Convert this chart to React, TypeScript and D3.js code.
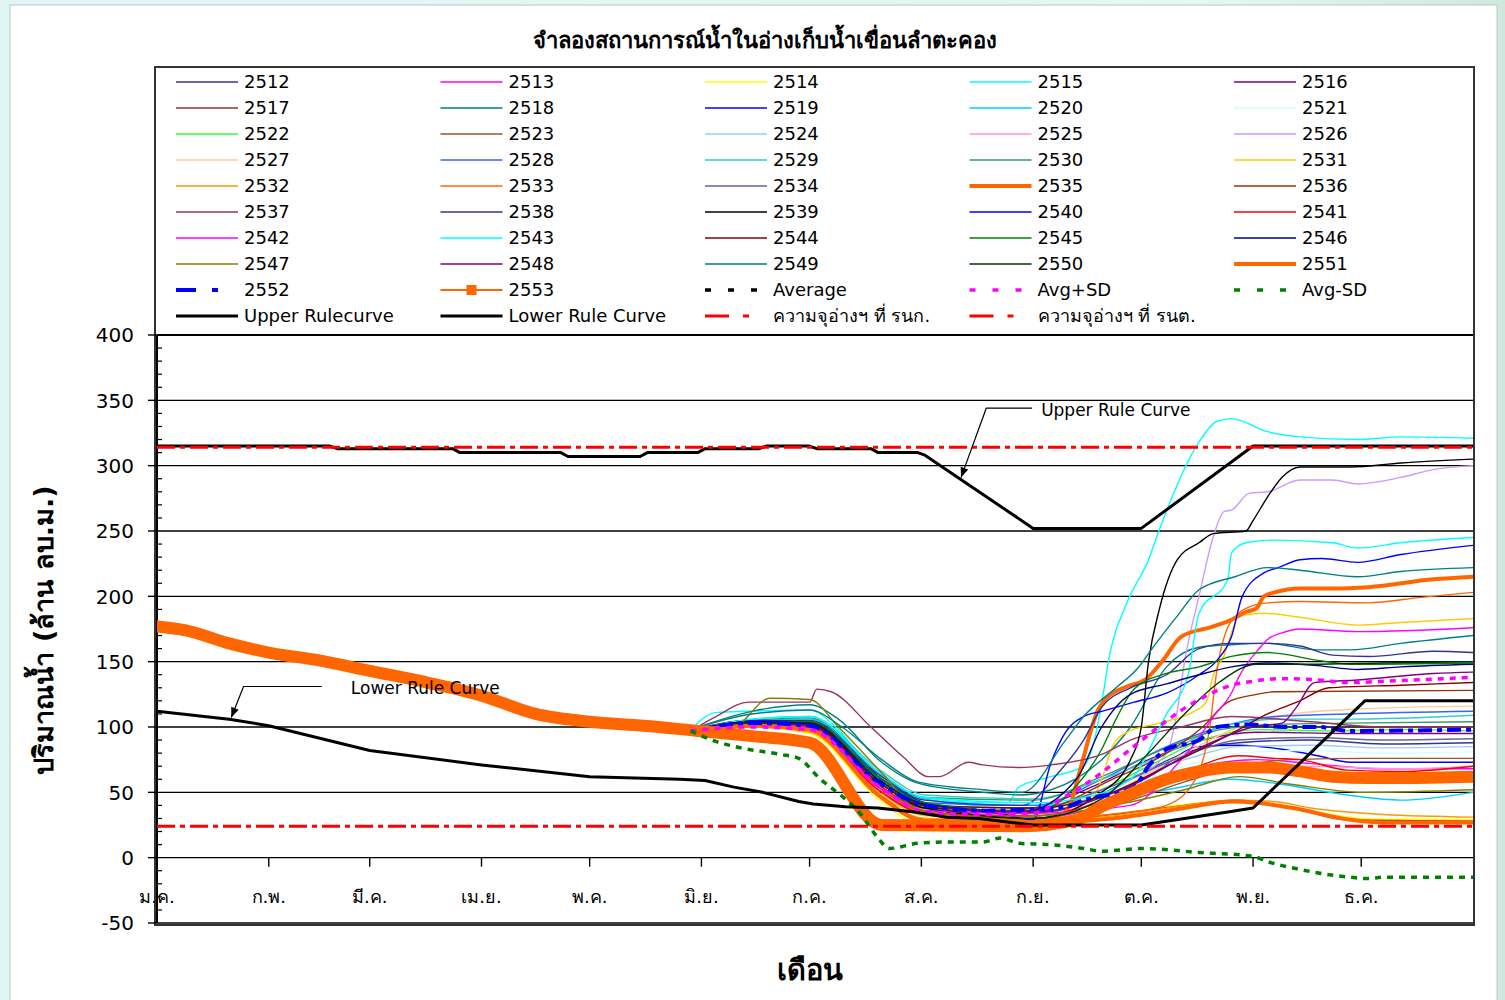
import React from "react";
import * as d3 from "d3";

type Pt = [number, number];

const TITLE = "จำลองสถานการณ์น้ำในอ่างเก็บน้ำเขื่อนลำตะคอง";
const Y_TITLE = "ปริมาณน้ำ (ล้าน ลบ.ม.)";
const X_TITLE = "เดือน";
const MONTHS = ["ม.ค.", "ก.พ.", "มี.ค.", "เม.ย.", "พ.ค.", "มิ.ย.", "ก.ค.", "ส.ค.", "ก.ย.", "ต.ค.", "พ.ย.", "ธ.ค."];
const MONTH_START_DAYS = [0, 31, 59, 90, 120, 151, 181, 212, 243, 273, 304, 334];
const Y_TICKS = [-50, 0, 50, 100, 150, 200, 250, 300, 350, 400];

// simulated storage per historical year (day of year, million m3)
const S2512: Pt[] = [[148, 97], [165, 103], [181, 104], [195, 75], [210, 40], [225, 33], [243, 32], [255, 40], [270, 60], [285, 80], [300, 88], [320, 90], [340, 87], [365, 88]];
const S2513: Pt[] = [[148, 97], [165, 102], [181, 100], [200, 55], [212, 35], [230, 30], [243, 30], [260, 38], [275, 55], [290, 70], [305, 75], [320, 72], [340, 68], [365, 68]];
const S2514: Pt[] = [[148, 97], [165, 100], [181, 95], [200, 45], [210, 28], [243, 27], [260, 30], [280, 39], [290, 42], [300, 43], [315, 38], [335, 30], [365, 29]];
const S2515: Pt[] = [[148, 98], [155, 111], [164, 112], [181, 113], [189, 98], [201, 57], [211, 47], [229, 42], [236, 42], [239, 54], [248, 62], [257, 70], [260, 90], [262, 118], [264, 152], [269, 195], [275, 228], [278, 251], [289, 318], [294, 334], [298, 336], [308, 326], [317, 322], [333, 320], [345, 322], [365, 321]];
const S2516: Pt[] = [[148, 97], [165, 104], [181, 102], [200, 60], [213, 40], [230, 35], [243, 38], [260, 55], [275, 75], [290, 90], [305, 96], [330, 95], [365, 95]];
const S2517: Pt[] = [[148, 97], [165, 102], [181, 98], [200, 50], [212, 30], [243, 28], [265, 33], [285, 40], [300, 44], [315, 38], [330, 29], [365, 28]];
const S2518: Pt[] = [[148, 98], [165, 112], [181, 117], [189, 106], [201, 73], [211, 57], [229, 50], [239, 48], [248, 52], [262, 75], [270, 100], [280, 146], [289, 161], [298, 163], [308, 164], [322, 159], [331, 159], [345, 164], [365, 170]];
const S2519: Pt[] = [[148, 97], [165, 104], [181, 100], [200, 50], [212, 36], [243, 34], [260, 45], [275, 62], [289, 85], [300, 86], [312, 83], [322, 78], [331, 73], [365, 73]];
const S2520: Pt[] = [[148, 97], [165, 105], [181, 106], [200, 65], [213, 45], [230, 40], [243, 40], [260, 45], [280, 52], [298, 60], [310, 57], [330, 48], [345, 44], [365, 50]];
const S2521: Pt[] = [[148, 97], [165, 101], [181, 99], [200, 55], [213, 38], [243, 36], [265, 50], [285, 70], [300, 80], [320, 82], [340, 80], [365, 81]];
const S2522: Pt[] = [[148, 97], [165, 104], [181, 102], [200, 60], [215, 38], [243, 36], [260, 50], [275, 70], [290, 90], [305, 98], [325, 97], [345, 98], [365, 97]];
const S2523: Pt[] = [[148, 97], [165, 100], [181, 98], [200, 52], [213, 33], [243, 32], [265, 40], [285, 58], [300, 70], [315, 75], [335, 76], [365, 76]];
const S2524: Pt[] = [[148, 97], [165, 103], [181, 103], [200, 58], [213, 40], [243, 38], [265, 55], [285, 75], [300, 85], [320, 86], [340, 84], [365, 85]];
const S2525: Pt[] = [[148, 97], [165, 101], [181, 98], [200, 52], [213, 35], [243, 33], [265, 45], [285, 60], [300, 68], [320, 70], [345, 68], [365, 70]];
const S2526: Pt[] = [[148, 97], [165, 103], [181, 101], [200, 55], [213, 37], [243, 35], [260, 45], [270, 60], [280, 80], [283, 113], [285, 150], [289, 200], [293, 246], [296, 265], [298, 266], [303, 279], [308, 280], [317, 289], [326, 289], [333, 286], [345, 291], [354, 297], [365, 300]];
const S2527: Pt[] = [[148, 97], [165, 100], [181, 97], [200, 50], [213, 33], [243, 32], [265, 50], [285, 80], [300, 100], [315, 110], [335, 114], [365, 116]];
const S2528: Pt[] = [[148, 97], [165, 104], [181, 103], [200, 62], [213, 42], [243, 40], [262, 60], [280, 85], [295, 100], [310, 108], [330, 110], [365, 112]];
const S2529: Pt[] = [[148, 97], [165, 106], [181, 108], [200, 68], [213, 48], [243, 45], [262, 60], [280, 80], [295, 100], [310, 106], [330, 106], [365, 109]];
const S2530: Pt[] = [[148, 97], [165, 105], [181, 107], [200, 66], [213, 46], [243, 44], [262, 62], [280, 84], [295, 98], [310, 102], [330, 103], [365, 104]];
const S2531: Pt[] = [[148, 97], [165, 101], [181, 98], [200, 50], [213, 32], [243, 30], [255, 30], [262, 60], [265, 85], [269, 96], [278, 103], [287, 111], [291, 119], [293, 140], [296, 155], [298, 172], [300, 185], [307, 187], [317, 184], [333, 178], [345, 180], [365, 183]];
const S2532: Pt[] = [[148, 97], [165, 100], [181, 96], [200, 48], [213, 30], [243, 29], [265, 32], [285, 40], [298, 44], [310, 43], [320, 38], [340, 33], [365, 31]];
const S2533: Pt[] = [[148, 97], [165, 102], [181, 100], [200, 52], [213, 34], [243, 30], [270, 35], [280, 40], [288, 60], [292, 100], [294, 144], [296, 169], [300, 187], [303, 192], [308, 195], [317, 196], [336, 195], [350, 199], [365, 203]];
const S2534: Pt[] = [[148, 97], [165, 103], [181, 102], [200, 58], [213, 40], [243, 38], [265, 55], [285, 78], [300, 90], [320, 92], [340, 90], [365, 91]];
const S2535: Pt[] = [[148, 97], [165, 104], [181, 103], [200, 55], [213, 35], [240, 28], [250, 32], [253, 39], [256, 67], [261, 113], [263, 121], [269, 131], [274, 136], [279, 151], [284, 169], [293, 177], [298, 182], [302, 188], [305, 191], [307, 200], [310, 203], [317, 206], [326, 206], [336, 207], [354, 213], [365, 215]];
const S2536: Pt[] = [[148, 97], [165, 102], [181, 101], [200, 56], [213, 38], [243, 36], [265, 60], [280, 80], [290, 100], [297, 119], [305, 125], [310, 127], [365, 128]];
const S2537: Pt[] = [[148, 97], [155, 108], [164, 119], [181, 119], [183, 129], [187, 127], [198, 100], [207, 77], [214, 62], [217, 62], [225, 73], [229, 71], [239, 69], [248, 71], [262, 79], [270, 90], [284, 100], [298, 108], [320, 104], [340, 100], [365, 100]];
const S2538: Pt[] = [[148, 97], [165, 104], [181, 105], [200, 64], [213, 44], [240, 40], [250, 65], [257, 90], [262, 115], [270, 130], [280, 140], [289, 160], [298, 164], [308, 164], [317, 162], [326, 155], [336, 154], [354, 158], [365, 157]];
const S2539: Pt[] = [[148, 97], [165, 103], [181, 102], [200, 58], [213, 38], [243, 30], [262, 50], [270, 75], [273, 100], [275, 150], [278, 190], [283, 228], [289, 241], [293, 248], [302, 250], [304, 258], [308, 276], [312, 291], [317, 299], [331, 299], [345, 302], [365, 305]];
const S2540: Pt[] = [[148, 97], [165, 105], [181, 104], [200, 62], [213, 42], [235, 33], [243, 29], [248, 73], [252, 96], [257, 108], [262, 112], [271, 119], [280, 126], [289, 140], [294, 151], [298, 169], [301, 200], [307, 218], [311, 222], [317, 228], [323, 229], [333, 226], [345, 232], [365, 239]];
const S2541: Pt[] = [[148, 97], [165, 101], [181, 99], [200, 52], [213, 34], [243, 32], [265, 45], [285, 66], [300, 78], [310, 76], [317, 75], [330, 67], [345, 66], [365, 70]];
const S2542: Pt[] = [[148, 97], [165, 102], [181, 100], [200, 54], [213, 36], [243, 34], [270, 40], [284, 75], [288, 88], [293, 108], [298, 126], [300, 138], [306, 161], [308, 167], [312, 172], [317, 175], [333, 173], [365, 176]];
const S2543: Pt[] = [[148, 97], [165, 106], [181, 108], [200, 66], [213, 46], [243, 42], [255, 45], [270, 60], [280, 110], [286, 140], [289, 187], [297, 213], [298, 233], [302, 241], [310, 243], [326, 241], [333, 237], [345, 241], [365, 245]];
const S2544: Pt[] = [[148, 97], [165, 103], [181, 102], [200, 58], [213, 40], [243, 38], [265, 50], [280, 70], [298, 95], [308, 110], [317, 120], [325, 130], [345, 132], [365, 134]];
const S2545: Pt[] = [[148, 97], [165, 104], [181, 104], [200, 62], [213, 42], [243, 35], [255, 55], [262, 83], [266, 106], [271, 129], [280, 141], [289, 146], [298, 154], [308, 157], [322, 151], [331, 148], [365, 149]];
const S2546: Pt[] = [[148, 97], [165, 104], [181, 103], [200, 60], [213, 41], [240, 35], [255, 60], [262, 100], [270, 125], [280, 133], [289, 140], [298, 146], [308, 149], [322, 147], [333, 144], [345, 146], [365, 148]];
const S2547: Pt[] = [[148, 97], [160, 100], [170, 122], [181, 121], [189, 100], [201, 65], [211, 37], [225, 32], [243, 32], [265, 40], [285, 52], [300, 62], [315, 56], [335, 50], [365, 52]];
const S2548: Pt[] = [[148, 97], [165, 103], [181, 101], [200, 58], [213, 40], [243, 35], [270, 55], [290, 85], [304, 100], [312, 103], [316, 115], [321, 134], [333, 136], [354, 141], [365, 142]];
const S2549: Pt[] = [[148, 98], [165, 110], [181, 113], [190, 100], [201, 75], [211, 58], [229, 52], [240, 50], [252, 90], [257, 108], [266, 130], [272, 145], [276, 160], [283, 185], [289, 205], [299, 215], [308, 222], [317, 220], [333, 215], [345, 219], [365, 222]];
const S2550: Pt[] = [[148, 97], [165, 103], [181, 103], [200, 60], [213, 40], [243, 30], [262, 45], [275, 80], [285, 110], [295, 135], [305, 148], [320, 148], [340, 149], [365, 150]];
const S2551: Pt[] = [[148, 97], [165, 101], [181, 98], [200, 48], [213, 28], [243, 27], [265, 30], [285, 38], [298, 43], [305, 42], [315, 38], [331, 29], [340, 27], [365, 27]];
const S2552: Pt[] = [[148, 97], [165, 103], [181, 101], [200, 58], [213, 40], [230, 36], [243, 37], [252, 39], [257, 44], [271, 54], [275, 70], [280, 83], [289, 90], [294, 100], [303, 102], [312, 100], [322, 100], [331, 97], [365, 98]];
const S2553: Pt[] = [[0, 177], [8, 174], [20, 164], [31, 157], [45, 151], [59, 143], [75, 134], [90, 124], [105, 110], [120, 104], [135, 101], [150, 97], [165, 93], [181, 88], [201, 25], [240, 24], [255, 29], [262, 39], [271, 50], [280, 60], [289, 66], [298, 69], [308, 69], [317, 66], [326, 62], [336, 61], [345, 61], [365, 62]];

const AVERAGE: Pt[] = [[148, 97], [165, 93], [181, 86], [201, 25], [240, 24], [255, 29], [271, 50], [289, 66], [304, 68], [317, 66], [336, 61], [365, 62]];
const AVG_PLUS_SD: Pt[] = [[148, 97], [165, 100], [181, 98], [200, 55], [213, 35], [229, 33], [243, 34], [252, 47], [262, 65], [270, 83], [289, 121], [298, 132], [304, 135], [312, 137], [322, 136], [331, 134], [340, 135], [365, 138]];
const AVG_MINUS_SD: Pt[] = [[148, 97], [155, 89], [162, 84], [173, 79], [178, 76], [184, 60], [190, 47], [195, 34], [200, 15], [203, 7], [211, 11], [220, 12], [229, 12], [234, 15], [239, 11], [248, 10], [257, 7], [262, 5], [273, 7], [289, 4], [304, 1], [308, -3], [317, -9], [331, -15], [336, -16], [340, -15], [365, -15]];

const UPPER_RULE: Pt[] = [[0, 315], [48, 315], [50, 313], [82, 313], [84, 310], [112, 310], [114, 307], [134, 307], [136, 310], [150, 310], [152, 313], [167, 313], [169, 315], [181, 315], [183, 313], [198, 313], [200, 310], [211, 310], [213, 308], [243, 252], [273, 252], [304, 315], [365, 315]];
const LOWER_RULE: Pt[] = [[0, 112], [20, 106], [31, 101], [59, 82], [90, 71], [120, 62], [145, 60], [152, 59], [160, 54], [168, 50], [178, 43], [182, 41], [191, 39], [200, 38], [210, 35], [219, 31], [228, 30], [237, 27], [243, 25], [273, 25], [285, 30], [297, 35], [304, 38], [335, 120], [365, 120]];
const CAP_NORMAL = 314; // รนก.
const CAP_MIN = 24; // รนต.

const YEAR_NAMES = ["2512", "2513", "2514", "2515", "2516", "2517", "2518", "2519", "2520", "2521", "2522", "2523", "2524", "2525", "2526", "2527", "2528", "2529", "2530", "2531", "2532", "2533", "2534", "2535", "2536", "2537", "2538", "2539", "2540", "2541", "2542", "2543", "2544", "2545", "2546", "2547", "2548", "2549", "2550", "2551", "2552", "2553"];
const YEAR_DATA: Pt[][] = [S2512, S2513, S2514, S2515, S2516, S2517, S2518, S2519, S2520, S2521, S2522, S2523, S2524, S2525, S2526, S2527, S2528, S2529, S2530, S2531, S2532, S2533, S2534, S2535, S2536, S2537, S2538, S2539, S2540, S2541, S2542, S2543, S2544, S2545, S2546, S2547, S2548, S2549, S2550, S2551, S2552, S2553];
const YEAR_COLORS = ["#333399", "#FF00FF", "#FFFF00", "#00FFFF", "#800080", "#993333", "#008080", "#0000FF", "#00CCFF", "#CCFFFF", "#33FF33", "#A0522D", "#99CCFF", "#FF99CC", "#CC99FF", "#FFCC99", "#3366FF", "#33CCCC", "#339966", "#FFCC00", "#FF9900", "#FF6600", "#666699", "#FF6600", "#993300", "#993366", "#333399", "#000000", "#0000FF", "#FF0000", "#FF00FF", "#00FFFF", "#800000", "#008000", "#000080", "#808000", "#800080", "#008080", "#003300", "#FF6600", "#0000FF", "#FF6600"];

const LEGEND_EXTRA = ["Average", "Avg+SD", "Avg-SD", "Upper Rulecurve", "Lower Rule Curve", "ความจุอ่างฯ ที่ รนก.", "ความจุอ่างฯ ที่ รนต."];

type Style = { color: string; width: number; dash?: string; legendDash?: string; marker?: boolean; smooth?: boolean };

function yearStyle(i: number): Style {
  const name = YEAR_NAMES[i];
  const color = YEAR_COLORS[i];
  if (name === "2535" || name === "2551") return { color, width: 4, smooth: true };
  if (name === "2552") return { color, width: 4, dash: "14,5,5,5", legendDash: "20,16,6,20", smooth: true };
  if (name === "2553") return { color, width: 12, marker: true, smooth: true };
  return { color, width: 1.4, smooth: true };
}

const EXTRA_STYLES: Style[] = [
  { color: "#000000", width: 3.5, dash: "6,6", legendDash: "6,17" },
  { color: "#FF00FF", width: 3.5, dash: "6,6", legendDash: "6,17" },
  { color: "#008000", width: 3.5, dash: "6,6", legendDash: "6,17" },
  { color: "#000000", width: 3 },
  { color: "#000000", width: 3 },
  { color: "#FF0000", width: 3, dash: "18,5,5,5", legendDash: "24,14,6,20" },
  { color: "#FF0000", width: 3, dash: "18,5,5,5", legendDash: "24,14,6,20" },
];

const FONT = "Tahoma, 'DejaVu Sans', 'Noto Sans', sans-serif";

export default function App() {
  const W = 1505, H = 1000;
  const left = 157, right = 1473, top = 335, bottom = 923;
  const x = d3.scaleLinear().domain([0, 365]).range([left, right]);
  const y = d3.scaleLinear().domain([-50, 400]).range([bottom, top]);
  const smoothLine = d3.line<Pt>().x(d => x(d[0])).y(d => y(d[1])).curve(d3.curveMonotoneX);
  const straightLine = d3.line<Pt>().x(d => x(d[0])).y(d => y(d[1]));

  const minorTicks = d3.range(-50, 401, 10).filter(v => v % 50 !== 0);

  const extraData: Pt[][] = [AVERAGE, AVG_PLUS_SD, AVG_MINUS_SD, UPPER_RULE, LOWER_RULE, [[0, CAP_NORMAL], [365, CAP_NORMAL]], [[0, CAP_MIN], [365, CAP_MIN]]];

  const legendItems = [
    ...YEAR_NAMES.map((n, i) => ({ label: n, style: yearStyle(i) })),
    ...LEGEND_EXTRA.map((n, i) => ({ label: n, style: EXTRA_STYLES[i] })),
  ];

  const upperAnn = { tipDay: 223, elbowDay: 230, labelDay: 243, labelValue: 344, gap: 8, text: "Upper Rule Curve" };
  const lowerAnn = { tipDay: 20.6, elbowDay: 24, labelDay: 46, labelValue: 131, gap: 28, text: "Lower Rule Curve" };
  const ruleAt = (data: Pt[], day: number) => {
    for (let i = 1; i < data.length; i++) {
      if (day <= data[i][0]) {
        const [d0, v0] = data[i - 1];
        const [d1, v1] = data[i];
        return v0 + (v1 - v0) * (day - d0) / (d1 - d0);
      }
    }
    return data[data.length - 1][1];
  };

  const renderAnn = (a: typeof upperAnn, data: Pt[], key: string) => {
    const tx = x(a.tipDay), ty = y(ruleAt(data, a.tipDay)) - 2;
    const ex = x(a.elbowDay), ey = y(a.labelValue);
    const lx = x(a.labelDay);
    const ang = Math.atan2(ty - ey, tx - ex);
    const ah = 10, aw = 4;
    const p1 = [tx - ah * Math.cos(ang) + aw * Math.sin(ang), ty - ah * Math.sin(ang) - aw * Math.cos(ang)];
    const p2 = [tx - ah * Math.cos(ang) - aw * Math.sin(ang), ty - ah * Math.sin(ang) + aw * Math.cos(ang)];
    return (
      <g key={key}>
        <polyline points={`${lx - 1},${ey} ${ex},${ey} ${tx},${ty}`} fill="none" stroke="#000" strokeWidth={1.2} />
        <polygon points={`${tx},${ty} ${p1[0]},${p1[1]} ${p2[0]},${p2[1]}`} fill="#000" />
        <text x={lx + a.gap} y={ey + 2} dy="0.35em" fontSize={17} fontFamily={FONT} fill="#000">{a.text}</text>
      </g>
    );
  };

  const i2553 = YEAR_NAMES.indexOf("2553");
  const renderYear = (i: number) => {
    const s = yearStyle(i);
    return (
      <path key={"s" + i} d={(s.smooth ? smoothLine : straightLine)(YEAR_DATA[i]) || ""} fill="none"
        stroke={s.color} strokeWidth={s.width} strokeDasharray={s.dash}
        strokeLinejoin="round" strokeLinecap={s.marker ? "square" : "butt"} />
    );
  };
  const renderExtra = (i: number) => {
    const s = EXTRA_STYLES[i];
    const gen = i < 3 ? smoothLine : straightLine;
    return (
      <path key={"e" + i} d={gen(extraData[i]) || ""} fill="none" stroke={s.color} strokeWidth={s.width}
        strokeDasharray={s.dash} strokeLinejoin="round" />
    );
  };

  return (
    <svg width={W} height={H} style={{ position: "absolute", left: 0, top: 0, display: "block" }}>
      <defs>
        <linearGradient id="bgGrad" x1="0" y1="0" x2="1" y2="0">
          <stop offset="0" stopColor="#dff6f4" />
          <stop offset="0.8" stopColor="#e6f7f4" />
          <stop offset="1" stopColor="#cfe8dc" />
        </linearGradient>
        <clipPath id="plotClip">
          <rect x={left} y={top - 6} width={right - left} height={bottom - top + 6} />
        </clipPath>
      </defs>
      <rect x={0} y={0} width={W} height={H} fill="url(#bgGrad)" />
      <rect x={10} y={5} width={1487} height={H} fill="#ffffff" stroke="#b8c8c8" strokeWidth={1} />

      <text x={765} y={40} dy="0.35em" textAnchor="middle" fontFamily={FONT} fontWeight="bold" fontSize={22} fill="#000">{TITLE}</text>

      <rect x={155} y={67} width={1319} height={858} fill="none" stroke="#333" strokeWidth={2} />

      {legendItems.map((it, i) => {
        const col = i % 5, row = Math.floor(i / 5);
        const lx = 176 + col * 264.5;
        const ly = 82 + row * 26;
        const s = it.style;
        return (
          <g key={"lg" + i}>
            <line x1={lx} y1={ly} x2={lx + 62} y2={ly} stroke={s.color}
              strokeWidth={s.marker ? 2 : Math.min(s.width, 4)}
              strokeDasharray={s.legendDash || s.dash} />
            {s.marker && <rect x={lx + 26} y={ly - 5} width={10} height={10} fill={s.color} />}
            <text x={lx + 68} y={ly} dy="0.36em" fontSize={18} fontFamily={FONT} fill="#000">{it.label}</text>
          </g>
        );
      })}

      {Y_TICKS.map(t => (
        <line key={"g" + t} x1={left} x2={right} y1={y(t)} y2={y(t)} stroke="#000" strokeWidth={t === 400 ? 2 : 1.4} />
      ))}
      {Y_TICKS.map(t => (
        <g key={"yt" + t}>
          <line x1={left - 9} x2={left} y1={y(t)} y2={y(t)} stroke="#000" strokeWidth={1.4} />
          <text x={134} y={y(t)} dy="0.36em" textAnchor="end" fontSize={20} fontFamily={FONT} fill="#000">{t}</text>
        </g>
      ))}
      {minorTicks.map(t => (
        <line key={"mt" + t} x1={left} x2={left + 5} y1={y(t)} y2={y(t)} stroke="#000" strokeWidth={1.2} />
      ))}
      <line x1={left} x2={left} y1={top} y2={bottom} stroke="#000" strokeWidth={2} />

      {MONTH_START_DAYS.map((d, i) => (
        <g key={"xt" + i}>
          <line x1={x(d)} x2={x(d)} y1={y(0)} y2={y(0) + 9} stroke="#000" strokeWidth={1.4} />
          <text x={x(d)} y={897} dy="0.35em" textAnchor="middle" fontSize={18} fontFamily={FONT} fill="#000">{MONTHS[i]}</text>
        </g>
      ))}

      <g clipPath="url(#plotClip)">
        {YEAR_DATA.map((_, i) => (i === i2553 ? null : renderYear(i)))}
        {renderExtra(0)}
        {renderYear(i2553)}
        {[1, 2, 3, 4, 5, 6].map(i => renderExtra(i))}
      </g>

      {renderAnn(upperAnn, UPPER_RULE, "ua")}
      {renderAnn(lowerAnn, LOWER_RULE, "la")}

      <text transform={`translate(44,630) rotate(-90)`} textAnchor="middle" dy="0.35em" fontSize={27} fontWeight="bold" fontFamily={FONT} fill="#000">{Y_TITLE}</text>
      <text x={810} y={970} dy="0.35em" textAnchor="middle" fontSize={29} fontWeight="bold" fontFamily={FONT} fill="#000">{X_TITLE}</text>
    </svg>
  );
}
